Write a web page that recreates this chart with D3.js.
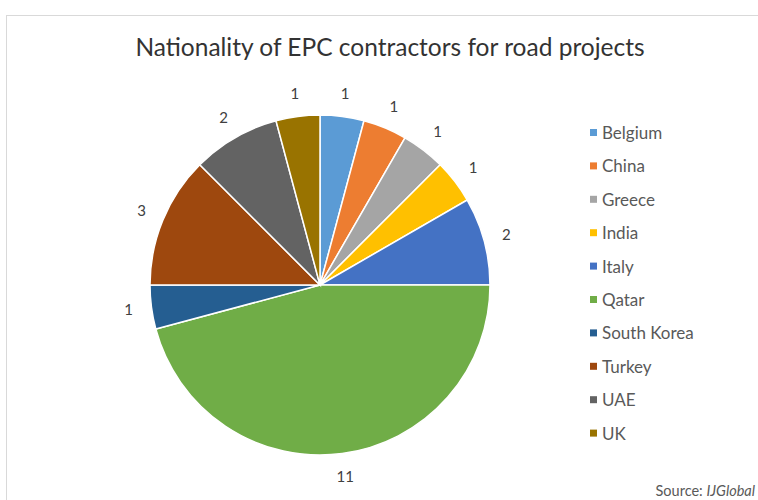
<!DOCTYPE html>
<html>
<head>
<meta charset="utf-8">
<script src="https://cdn.jsdelivr.net/npm/d3@7"></script>
<style>
  body { margin: 0; background: #fff; }
  svg { display: block; font-family: Lato, "Open Sans", sans-serif; }
</style>
</head>
<body>
<div id="chart"></div>
<script>
// Chart data
const countries = ['Belgium', 'China', 'Greece', 'India', 'Italy', 'Qatar', 'South Korea', 'Turkey', 'UAE', 'UK'];
const counts = [1, 1, 1, 1, 2, 11, 1, 3, 2, 1];
const sliceColors = ['#5B9BD5', '#ED7D31', '#A5A5A5', '#FFC000', '#4472C4', '#70AD47', '#255E91', '#9E480E', '#636363', '#997300'];
const titleText = 'Nationality of EPC contractors for road projects';

const W = 758, H = 500;
const cx = 320, cy = 285, radius = 170, labelRadius = 193;

const svg = d3.select('#chart')
    .append('svg')
    .attr('width', W)
    .attr('height', H);

// Frame
svg.append('rect')
    .attr('x', 6.5)
    .attr('y', 15.5)
    .attr('width', W + 20)
    .attr('height', H)
    .attr('fill', '#fff')
    .attr('stroke', '#d9d9d9');

// Title
svg.append('text')
    .attr('x', 390)
    .attr('y', 56)
    .attr('text-anchor', 'middle')
    .style('font-size', '24.5px')
    .style('fill', '#333')
    .text(titleText);

const data = countries.map((c, i) => ({ name: c, value: counts[i], color: sliceColors[i] }));

const pie = d3.pie()
    .value(d => d.value)
    .sort(null);

const arc = d3.arc()
    .innerRadius(0)
    .outerRadius(radius);

const labelArc = d3.arc()
    .innerRadius(labelRadius)
    .outerRadius(labelRadius);

const g = svg.append('g')
    .attr('transform', `translate(${cx},${cy})`);

const arcs = pie(data);

g.selectAll('path.slice')
    .data(arcs)
    .enter()
    .append('path')
    .attr('class', 'slice')
    .attr('d', arc)
    .attr('fill', d => d.data.color)
    .attr('stroke', '#fff')
    .attr('stroke-width', 1.5);

g.selectAll('text.value')
    .data(arcs)
    .enter()
    .append('text')
    .attr('class', 'value')
    .attr('transform', d => `translate(${labelArc.centroid(d)})`)
    .attr('text-anchor', 'middle')
    .attr('dy', '0.35em')
    .style('font-size', '15px')
    .style('fill', '#404040')
    .text(d => d.data.value);

// Legend
const legend = svg.append('g')
    .attr('transform', 'translate(590, 133)');

const legendItem = legend.selectAll('g')
    .data(data)
    .enter()
    .append('g')
    .attr('transform', (d, i) => `translate(0, ${i * 33.4})`);

legendItem.append('rect')
    .attr('x', 0)
    .attr('y', -4)
    .attr('width', 7)
    .attr('height', 7)
    .attr('fill', d => d.color);

legendItem.append('text')
    .attr('x', 12)
    .attr('y', 0)
    .attr('dy', '0.35em')
    .style('font-size', '17px')
    .style('fill', '#595959')
    .text(d => d.name);

// Source note
const source = svg.append('text')
    .attr('x', 755)
    .attr('y', 496)
    .attr('text-anchor', 'end')
    .style('font-size', '14.5px')
    .style('fill', '#595959');
source.append('tspan').text('Source: ');
source.append('tspan').style('font-style', 'italic').text('IJGlobal');
</script>
</body>
</html>
